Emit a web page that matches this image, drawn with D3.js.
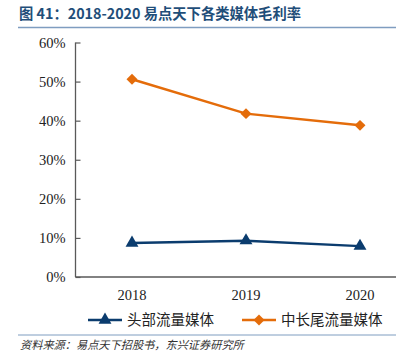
<!DOCTYPE html>
<html>
<head>
<meta charset="utf-8">
<script src="https://cdn.jsdelivr.net/npm/d3@7"></script>
<style>
  body { margin: 0; background: #fff; }
  svg { display: block; }
</style>
</head>
<body>
<div id="chart"></div>
<script>
const years = ["2018", "2019", "2020"];
const headMedia = [8.7, 9.3, 7.9];
const tailMedia = [50.6, 41.8, 38.8];
const yTicks = [0, 10, 20, 30, 40, 50, 60];
const seriesNames = ["头部流量媒体", "中长尾流量媒体"];

const W = 414, H = 351;
const blue = "#0B3C6E", orange = "#E46C0A";
const cjk = "'Noto Sans CJK SC', 'Noto Sans', sans-serif";
const serif = "'Liberation Serif', 'Times New Roman', serif";

const svg = d3.select("#chart").append("svg")
    .attr("width", W)
    .attr("height", H);

// title + rule
svg.append("text")
    .attr("x", 19)
    .attr("y", 19)
    .attr("font-family", cjk)
    .attr("font-weight", "bold")
    .attr("font-size", 14.3)
    .attr("fill", "#1F4E79")
    .text("图 41：2018-2020 易点天下各类媒体毛利率");
svg.append("line")
    .attr("x1", 18).attr("x2", 396)
    .attr("y1", 27.5).attr("y2", 27.5)
    .attr("stroke", "#7F9DC0")
    .attr("stroke-width", 1.5);

const x = d3.scalePoint().domain(years).range([132, 360]);
const y = d3.scaleLinear().domain([0, 60]).range([277, 42.5]);
const left = 75.5, right = 396;

// y axis, ticks pointing inwards
const yAxis = svg.append("g")
    .attr("transform", `translate(${left},0)`)
    .call(d3.axisRight(y).tickValues(yTicks).tickSize(5).tickFormat(d => d + "%"));
yAxis.select(".domain").attr("stroke", "#595959").attr("stroke-width", 1.3)
    .attr("d", `M0,${y(60)}V${y(0)}`);
yAxis.selectAll(".tick line").attr("stroke", "#595959").attr("stroke-width", 1.2);
yAxis.selectAll(".tick text")
    .attr("x", -10)
    .attr("text-anchor", "end")
    .attr("font-family", serif)
    .attr("font-size", 14.5)
    .attr("fill", "#222");

// x axis
svg.append("line")
    .attr("x1", left).attr("x2", right)
    .attr("y1", y(0)).attr("y2", y(0))
    .attr("stroke", "#595959").attr("stroke-width", 1.3);
svg.append("g").selectAll("text")
    .data(years)
    .join("text")
    .attr("x", d => x(d))
    .attr("y", 300)
    .attr("text-anchor", "middle")
    .attr("font-family", serif)
    .attr("font-size", 14.5)
    .attr("fill", "#222")
    .text(d => d);

const line = d3.line()
    .x((d, i) => x(years[i]))
    .y(d => y(d));

const tri = d3.symbol().type(d3.symbolTriangle).size(72);
const dia = d3.symbol().type(d3.symbolSquare).size(60);

function drawSeries(vals, color, kind) {
    svg.append("path")
        .datum(vals)
        .attr("fill", "none")
        .attr("stroke", color)
        .attr("stroke-width", 2.5)
        .attr("d", line);
    svg.append("g").selectAll("path")
        .data(vals)
        .join("path")
        .attr("transform", (d, i) => `translate(${x(years[i])},${y(d)})` + (kind === "dia" ? " rotate(45)" : ""))
        .attr("d", kind === "dia" ? dia : tri)
        .attr("fill", color);
}
drawSeries(headMedia, blue, "tri");
drawSeries(tailMedia, orange, "dia");

// legend
const legend = [
    { name: seriesNames[0], color: blue, kind: "tri", x0: 88 },
    { name: seriesNames[1], color: orange, kind: "dia", x0: 242 }
];
const ly = 320;
legend.forEach(l => {
    svg.append("line")
        .attr("x1", l.x0).attr("x2", l.x0 + 34)
        .attr("y1", ly).attr("y2", ly)
        .attr("stroke", l.color).attr("stroke-width", 2.5);
    svg.append("path")
        .attr("transform", `translate(${l.x0 + 17},${ly})` + (l.kind === "dia" ? " rotate(45)" : ""))
        .attr("d", l.kind === "dia" ? dia : tri)
        .attr("fill", l.color);
    svg.append("text")
        .attr("x", l.x0 + 39)
        .attr("y", ly + 5)
        .attr("font-family", cjk)
        .attr("font-size", 14.5)
        .attr("fill", "#222")
        .text(l.name);
});

// source rule + note
svg.append("line")
    .attr("x1", 18).attr("x2", 396)
    .attr("y1", 335).attr("y2", 335)
    .attr("stroke", "#7F9DC0")
    .attr("stroke-width", 1);
svg.append("text")
    .attr("x", 20)
    .attr("y", 349)
    .attr("font-family", cjk)
    .attr("font-size", 11.2)
    .attr("font-style", "italic")
    .attr("fill", "#333")
    .text("资料来源：易点天下招股书，东兴证券研究所");
</script>
</body>
</html>
